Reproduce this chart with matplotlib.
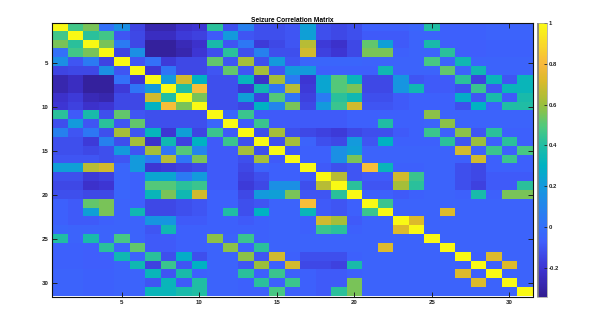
import numpy as np
import matplotlib
matplotlib.use("Agg")
import matplotlib.pyplot as plt
from matplotlib.colors import LinearSegmentedColormap

plt.rcParams['font.family'] = ['Liberation Sans', 'DejaVu Sans']

title = "Seizure Correlation Matrix"
ticks = [5, 10, 15, 20, 25, 30]
cbar_ticks = [-0.2, 0, 0.2, 0.4, 0.6, 0.8, 1]
cbar_labels = ["-0.2", "0", "0.2", "0.4", "0.6", "0.8", "1"]

# upper triangle of the matrix, each row starts on the diagonal
upper = [
    [1,.47,.55,0,.15,-.15,-.28,-.28,-.22,-.2,.42,-.12,.08,-.12,-.12,-.1,.22,-.12,-.14,-.12,-.06,-.06,-.06,-.04,.4,-.06,-.06,-.06,-.05,-.05,-.05],
    [1,.42,.47,-.1,-.14,-.24,-.24,-.18,-.16,-.08,.2,-.1,-.12,-.12,-.1,.22,-.12,-.14,-.12,-.08,-.08,-.08,-.05,-.05,-.06,-.06,-.06,-.05,-.05,-.05],
    [1,.55,.05,-.14,-.32,-.32,-.26,-.22,.38,-.1,.04,-.18,-.14,-.1,.65,-.18,-.22,-.14,.52,.22,-.08,-.05,.38,-.07,-.07,-.07,-.06,-.06,-.06],
    [1,-.15,.15,-.32,-.32,-.28,-.2,-.12,.42,-.12,.08,-.12,-.12,.7,-.16,-.2,-.14,.55,.55,-.06,-.05,-.05,.42,-.07,-.07,-.06,-.06,-.06],
    [1,-.1,0,-.18,-.14,-.14,.52,-.1,.62,-.12,.2,-.1,-.04,-.04,-.04,-.04,-.05,-.05,-.05,-.05,.48,-.05,.35,-.05,-.05,-.05,-.05],
    [1,-.2,.02,-.14,-.14,-.1,.52,-.1,.62,-.1,.2,.2,-.06,-.06,-.06,-.06,.35,-.05,-.05,-.05,.52,-.05,.35,-.05,-.05,-.05],
    [1,.2,.7,.3,-.12,-.12,.32,-.22,.62,.05,-.2,.25,.5,.33,-.14,-.14,.18,-.1,-.08,-.08,.42,-.16,.33,-.1,.33],
    [1,.4,.82,-.12,-.12,-.2,.35,.02,.65,-.18,.25,.5,.55,-.14,-.14,.18,.35,-.08,-.08,-.12,.45,-.1,.33,.33],
    [1,.55,-.12,-.12,.22,-.16,.5,.02,-.16,.05,.42,.35,-.12,-.12,-.08,-.06,-.06,-.06,.28,-.1,.38,-.08,.38],
    [1,-.12,-.12,-.15,.3,.1,.55,-.14,.2,.45,.7,-.1,-.1,-.08,-.06,-.06,-.06,-.12,.3,-.06,.4,.4],
    [1,-.04,.45,-.08,-.08,-.08,-.08,-.08,-.08,-.06,-.06,-.06,-.06,-.06,.58,-.05,-.05,-.05,-.05,-.05,-.05],
    [1,-.08,.45,-.08,-.08,-.08,-.08,-.08,-.06,-.06,.4,-.06,-.06,-.05,.58,-.05,-.05,-.05,-.05,-.05],
    [1,-.12,.62,-.12,-.14,-.16,-.18,-.14,-.12,-.12,-.08,-.06,.45,-.06,.58,-.1,.42,-.06,-.06],
    [1,-.12,.62,-.05,-.12,-.14,.2,-.1,.3,-.06,-.06,-.06,.42,-.1,.6,-.06,.42,-.06],
    [1,-.08,-.06,-.06,.15,.22,-.05,-.05,-.05,-.05,-.05,-.05,.7,-.06,.45,-.06,.48],
    [1,-.06,-.06,.15,.55,-.05,-.05,-.05,-.05,-.05,-.05,-.06,.7,-.06,.45,-.06],
    [1,-.08,-.12,-.1,.82,.33,-.06,-.06,-.05,-.05,-.12,-.14,-.06,-.06,-.06],
    [1,.65,-.1,-.08,-.08,.7,.45,-.05,-.05,-.12,-.14,-.08,-.08,-.08],
    [1,.42,-.1,-.1,.62,.42,-.05,-.05,-.12,-.16,-.08,-.08,.42],
    [1,-.06,-.06,-.08,-.06,-.05,-.05,-.06,.38,-.06,.55,.55],
    [1,.45,-.05,-.05,-.05,-.05,-.05,-.05,-.05,-.05,-.05],
    [1,-.05,-.05,-.05,.72,-.05,-.05,-.05,-.05,-.05],
    [1,.72,-.05,-.05,-.05,-.05,-.05,-.05,-.05],
    [1,-.05,-.05,-.05,-.05,-.05,-.05,-.05],
    [1,-.05,-.05,-.05,-.05,-.05,-.05],
    [1,-.05,-.05,-.05,-.05,-.05],
    [1,-.06,.72,-.05,-.05],
    [1,-.06,.72,-.05],
    [1,-.05,-.05],
    [1,-.05],
    [1],
]

n = len(upper)
corr = np.zeros((n, n))
for i, row in enumerate(upper):
    corr[i, i:] = row
    corr[i:, i] = row

parula = LinearSegmentedColormap.from_list("parula", [
    (0.000, (0.20, 0.12, 0.58)),
    (0.100, (0.24, 0.20, 0.82)),
    (0.200, (0.25, 0.37, 0.99)),
    (0.255, (0.20, 0.44, 0.98)),
    (0.400, (0.08, 0.60, 0.87)),
    (0.480, (0.00, 0.70, 0.76)),
    (0.550, (0.12, 0.74, 0.65)),
    (0.620, (0.30, 0.79, 0.50)),
    (0.700, (0.60, 0.75, 0.24)),
    (0.790, (0.86, 0.73, 0.17)),
    (0.850, (0.97, 0.72, 0.24)),
    (1.000, (0.98, 0.98, 0.08)),
])

W, H = 607, 323
fig = plt.figure(figsize=(W / 100, H / 100), dpi=100)
ax = fig.add_axes([52 / W, 1 - 296.5 / H, 480.5 / W, 273.5 / H])
im = ax.imshow(corr, cmap=parula, vmin=-0.342, vmax=1, aspect='auto',
               interpolation='nearest', extent=(0.5, n + 0.5, n + 0.5, 0.5))
ax.set_xticks(ticks)
ax.set_yticks(ticks)
ax.tick_params(direction='in', length=3.6, width=0.7, labelsize=4.4, pad=2.5,
               top=True, right=True, color='#222222', labelcolor='#222222')
for lab in ax.get_xticklabels() + ax.get_yticklabels():
    lab.set_fontweight('bold')
ax.set_title(title, fontsize=4.8, fontweight='bold', pad=1)
for s in ax.spines.values():
    s.set_linewidth(0.8)
    s.set_color('#111111')

cax = fig.add_axes([537 / W, 1 - 296.5 / H, 10 / W, 273.5 / H])
cb = fig.colorbar(im, cax=cax)
cb.set_ticks(cbar_ticks, labels=cbar_labels)
cax.tick_params(direction='in', length=2.5, width=0.6, labelsize=4.2, pad=1,
                left=False, right=True, color='#222222', labelcolor='#222222')
for lab in cax.get_yticklabels():
    lab.set_fontweight('bold')
cb.outline.set_linewidth(0.5)
cb.outline.set_edgecolor('#999999')
cax.axvline(0, color='#808080', lw=2)

fig.savefig("out.png", dpi=100)
